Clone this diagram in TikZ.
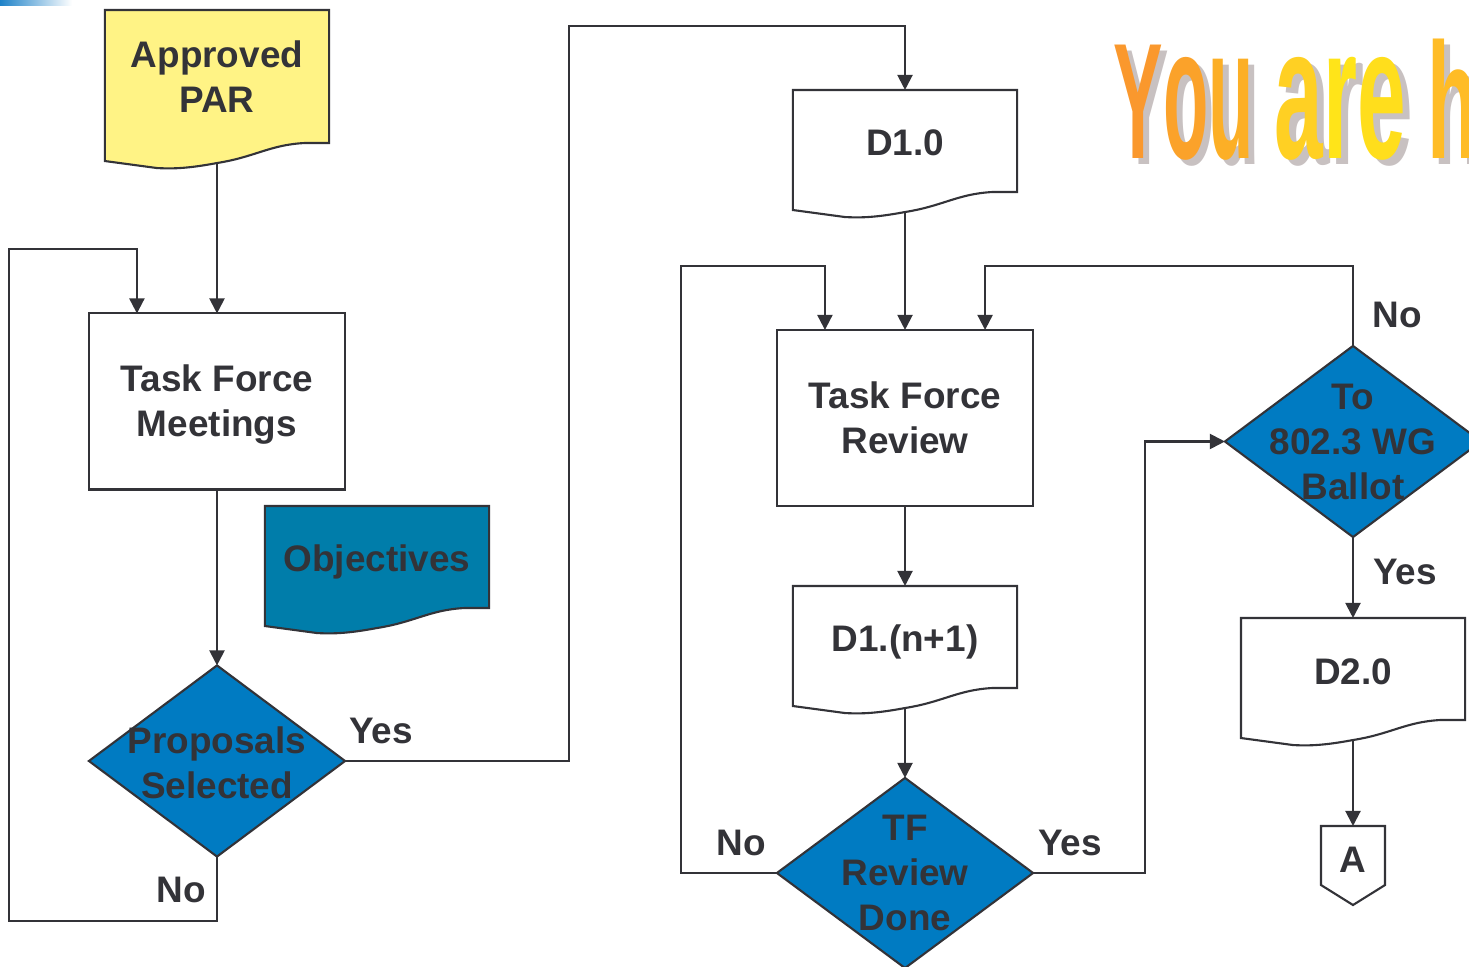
\documentclass[tikz,border=0pt]{standalone}
\usepackage{fontspec}
\setmainfont{Liberation Sans}
\usetikzlibrary{arrows.meta,shapes.geometric,calc}

\definecolor{inkgray}{RGB}{51,51,56}
\definecolor{parfill}{RGB}{255,243,133}
\definecolor{objfill}{RGB}{0,125,170}
\definecolor{askfill}{RGB}{0,123,194}
\definecolor{slideblue}{RGB}{30,130,200}
\definecolor{wagray}{RGB}{200,193,193}
\definecolor{waY}{RGB}{250,152,45}
\definecolor{waO}{RGB}{251,162,42}
\definecolor{waU}{RGB}{252,175,38}
\definecolor{waA}{RGB}{255,208,35}
\definecolor{waR}{RGB}{255,228,25}
\definecolor{waE}{RGB}{255,222,28}
\definecolor{waH}{RGB}{255,188,38}

\newcommand\paperoutline[2]{%
  \draw[flowline,fill=#2] (#1.north west) -- (#1.north east)
    -- ($(#1.south east)+(0,-20)$) -- ($(#1.south east)+(-25,-20)$)
    .. controls ($(#1.south east)+(-60,-18)$) and ($(#1.south)+(38,-6)$) .. (#1.south)
    .. controls ($(#1.south)+(-27,5)$) and ($(#1.south west)+(70,6)$) .. ($(#1.south west)+(52,5)$)
    -- ($(#1.south west)+(0,-2)$) -- cycle;}

\begin{document}
\begin{tikzpicture}[x=0.01cm, y=-0.01cm,
    flowline/.style={draw=inkgray, line width=0.6pt},
    flow/.style={flowline, -{Triangle[length=4.3pt,width=4.3pt]}},
    procbox/.style={rectangle, flowline, fill=white, minimum width=2.56cm, minimum height=1.76cm, inner sep=0pt, outer sep=0pt},
    askbox/.style={diamond, flowline, fill=askfill, minimum width=2.56cm, minimum height=1.91cm, inner sep=0pt, outer sep=0pt},
    paper/.style={rectangle, minimum width=2.24cm, minimum height=1.22cm, inner sep=0pt, outer sep=0pt},
    lbl/.style={font=\fontsize{10.5}{12.8}\selectfont\bfseries, text=inkgray, align=center, inner sep=0pt},
    wordart/.style={font=\fontsize{46.9}{50}\selectfont\bfseries, anchor=base west, inner sep=0pt}]
  \useasboundingbox (0,0) rectangle (1469,967);
  \shade[left color=slideblue, right color=white] (0,0) rectangle (72,6);

  \node[wordart, text=wagray] (youshadow) at (1119,165) {\scalebox{0.45}[1]{Y}\scalebox{0.45}[1.14]{ou}};
  \node[wordart, text=wagray] (areshadow) at (1281,165) {\scalebox{0.53}[1.14]{are}};
  \node[wordart, text=wagray] (hshadow) at (1433,165) {\scalebox{0.5}[1]{h}};
  \node[wordart] (you) at (1113,159) {\scalebox{0.45}[1]{\textcolor{waY}{Y}}\scalebox{0.45}[1.14]{\textcolor{waO}{o}\textcolor{waU}{u}}};
  \node[wordart] (are) at (1274,159) {\scalebox{0.53}[1.14]{\textcolor{waA}{a}\textcolor{waR}{r}\textcolor{waE}{e}}};
  \node[wordart] (h) at (1427,159) {\scalebox{0.5}[1]{\textcolor{waH}{h}}};

  \node[paper, minimum height=1.53cm] (par) at (217,86.5) {};
  \paperoutline{par}{parfill}
  \node[lbl] (partxt) at (217,77) {Approved\\PAR};

  \node[procbox] (tfm) at (217,401.5) {};
  \node[lbl] (tfmtxt) at (217,405) {Task Force\\Meetings};

  \node[paper] (obj) at (377,567) {};
  \paperoutline{obj}{objfill}
  \node[lbl] (objtxt) at (377,562) {Objectives};

  \node[askbox] (sel) at (217,761) {};
  \node[lbl] (seltxt) at (217,763) {Proposals\\Selected};

  \node[paper] (d10) at (905,151) {};
  \paperoutline{d10}{white}
  \node[lbl] (d10txt) at (905,143) {D1.0};

  \node[procbox] (tfr) at (905,418) {};
  \node[lbl] (tfrtxt) at (905,418) {Task Force\\Review};

  \node[paper] (dn1) at (905,647) {};
  \paperoutline{dn1}{white}
  \node[lbl] (dn1txt) at (905,642) {D1.(n+1)};

  \node[askbox, minimum height=1.9cm] (done) at (905,873) {};
  \node[lbl] (donetxt) at (905,873) {TF\\Review\\Done};

  \node[askbox] (ballot) at (1353,441.5) {};
  \node[lbl] (ballottxt) at (1353,442) {To\\802.3 WG\\Ballot};

  \node[paper] (d20) at (1353,679) {};
  \paperoutline{d20}{white}
  \node[lbl] (d20txt) at (1353,672) {D2.0};

  \node[rectangle, minimum width=0.64cm, minimum height=0.79cm, inner sep=0pt, outer sep=0pt] (pagea) at (1353,865.5) {};
  \draw[flowline, fill=white] (pagea.north west) -- (pagea.north east) -- ($(pagea.south east)+(0,-20)$)
    -- (pagea.south) -- ($(pagea.south west)+(0,-20)$) -- cycle;
  \node[lbl] (pageatxt) at (1353,860) {A};

  \draw[flow] (par.south) -- (tfm.north);
  \draw[flow] (tfm.south) -- (sel.north);
  \draw[flow] (sel.south) -- ++(0,64) -- ++(-208,0) |- ($(tfm.north west)+(48,-64)$) -- ($(tfm.north west)+(48,0)$);
  \draw[flow] (sel.east) -- ++(224,0) |- ($(d10.north)+(0,-64)$) -- (d10.north);
  \draw[flow] (d10.south) -- (tfr.north);
  \draw[flow] (tfr.south) -- (dn1.north);
  \draw[flow] (dn1.south) -- (done.north);
  \draw[flow] (done.west) -- ++(-96,0) |- ($(tfr.north west)+(48,-64)$) -- ($(tfr.north west)+(48,0)$);
  \draw[flow] (done.east) -- ++(112,0) |- (ballot.west);
  \draw[flow] (ballot.north) -- ++(0,-80) -| ($(tfr.north east)+(-48,0)$);
  \draw[flow] (ballot.south) -- (d20.north);
  \draw[flow] (d20.south) -- (pagea.north);

  \node[lbl] (selno) at (181,890) {No};
  \node[lbl] (selyes) at (381,731) {Yes};
  \node[lbl] (doneno) at (741,843) {No};
  \node[lbl] (doneyes) at (1070,843) {Yes};
  \node[lbl] (ballotno) at (1397,315) {No};
  \node[lbl] (ballotyes) at (1405,572) {Yes};
\end{tikzpicture}
\end{document}
